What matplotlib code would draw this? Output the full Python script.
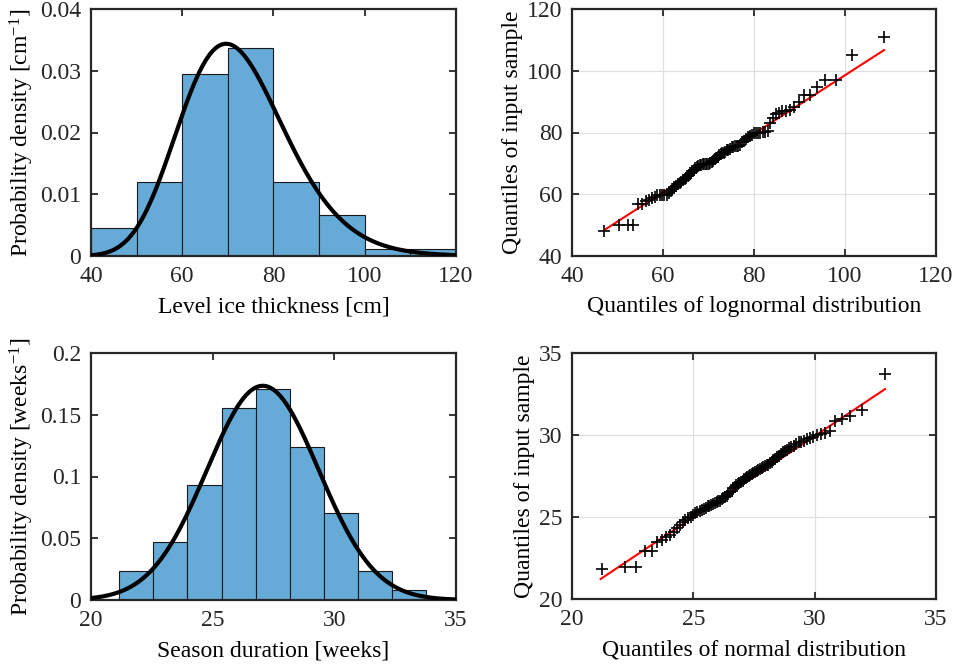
import numpy as np
import matplotlib
matplotlib.use("Agg")
import matplotlib.pyplot as plt
from statistics import NormalDist

plt.rcParams['font.family'] = ['Liberation Serif', 'DejaVu Serif']
plt.rcParams['mathtext.fontset'] = 'custom'
plt.rcParams['mathtext.rm'] = 'Liberation Serif'
plt.rcParams['mathtext.it'] = 'Liberation Serif'
FS = 17
plt.rcParams['font.size'] = FS

# ---------------- Data ----------------
# Level ice thickness histogram (density per cm), bins of 10 cm
ice_edges = [40, 50, 60, 70, 80, 90, 100, 110, 120]
ice_density = [0.0045, 0.0120, 0.0294, 0.0337, 0.0120, 0.0066, 0.0011, 0.0012]
# fitted lognormal parameters
ice_mu = 4.270
ice_sigma = 0.1645

# Season duration histogram (density per week)
season_edges = [21.15, 22.55, 23.95, 25.37, 26.77, 28.16, 29.56, 30.96, 32.36, 33.76]
season_density = [0.0237, 0.0470, 0.0934, 0.1552, 0.1706, 0.1241, 0.0702, 0.0237, 0.0081]
# fitted normal parameters
season_mu = 27.06
season_sigma = 2.30

# Sorted samples shown in the Q-Q plots
ice_sample = [48.1, 49.9, 49.9, 49.9, 57.0, 57.0, 57.8, 58.2, 58.8, 59.2,
              59.8, 59.8, 59.8, 59.8, 59.8, 60.5, 61.2, 61.8, 62.3, 62.8,
              63.3, 63.6, 64.0, 64.5, 64.8, 65.3, 65.9, 66.3, 66.8, 67.4,
              67.9, 68.4, 68.8, 69.1, 69.4, 69.6, 69.7, 69.8, 69.9, 69.9,
              69.95, 70.2, 70.5, 70.9, 71.3, 71.7, 72.1, 72.6, 73.0, 73.3,
              73.5, 73.8, 74.2, 74.4, 74.7, 75.2, 75.4, 75.5, 75.6, 75.7,
              76.0, 76.8, 77.2, 77.8, 78.4, 78.8, 79.3, 79.7, 79.8, 79.8,
              79.9, 80.1, 80.2, 80.4, 83.0, 84.6, 86.0, 86.2, 87.0, 87.1,
              87.2, 88.2, 90.0, 92.0, 92.0, 94.8, 97.0, 97.0, 105.0, 110.8]
ice_ref_x = [47.3, 108.6]
ice_ref_y = [48.6, 106.7]

season_sample = [21.8, 21.95, 21.95, 22.95, 22.95, 23.45, 23.6, 23.8, 23.9, 24.1,
                 24.35, 24.5, 24.7, 24.8, 24.95, 25.0, 25.1, 25.25, 25.3, 25.35,
                 25.4, 25.5, 25.55, 25.65, 25.7, 25.75, 25.8, 25.85, 25.9, 25.95,
                 26.0, 26.1, 26.15, 26.2, 26.3, 26.4, 26.5, 26.6, 26.75, 26.85,
                 26.95, 27.0, 27.1, 27.15, 27.2, 27.3, 27.4, 27.45, 27.5, 27.55,
                 27.6, 27.7, 27.75, 27.8, 27.85, 27.95, 28.0, 28.05, 28.1, 28.15,
                 28.2, 28.3, 28.35, 28.45, 28.55, 28.65, 28.75, 28.85, 28.95, 29.0,
                 29.1, 29.2, 29.25, 29.3, 29.45, 29.55, 29.6, 29.65, 29.75, 29.8,
                 29.9, 30.0, 30.05, 30.15, 30.25, 30.85, 30.95, 31.15, 31.55, 33.7]
season_ref_x = [21.18, 32.90]
season_ref_y = [21.22, 32.80]

BAR_COLOR = '#66AAD7'


def theoretical_z(n):
    nd = NormalDist()
    return np.array([nd.inv_cdf((i - 0.5) / n) for i in range(1, n + 1)])


def style_axes(ax):
    for s in ax.spines.values():
        s.set_linewidth(1.6)
        s.set_color('#262626')
    ax.tick_params(direction='in', length=5, width=1.3, top=True, right=True,
                   colors='#262626', labelcolor='#262626', labelsize=FS)
    ax.tick_params(axis='x', pad=7)
    ax.tick_params(axis='y', pad=7)


fig = plt.figure(figsize=(9.54, 6.67), dpi=100)
W, H = 954, 667


def add_ax(x0, y0, x1, y1):
    return fig.add_axes([x0 / W, 1 - y1 / H, (x1 - x0) / W, (y1 - y0) / H])


ax1 = add_ax(91, 9, 456, 256)
ax2 = add_ax(572, 9, 936, 256)
ax3 = add_ax(91, 353, 456, 600)
ax4 = add_ax(572, 353, 936, 599)

XLP = 7
YLP = 3

# --- Panel 1: ice histogram + lognormal pdf
e = np.array(ice_edges)
ax1.bar(e[:-1], ice_density, width=np.diff(e), align='edge', color=BAR_COLOR,
        edgecolor='#1a1a1a', linewidth=0.8, zorder=2)
xx = np.linspace(40, 120, 400)
pdf = np.exp(-(np.log(xx) - ice_mu) ** 2 / (2 * ice_sigma ** 2)) / (xx * ice_sigma * np.sqrt(2 * np.pi))
ax1.plot(xx, pdf, color='black', lw=3, zorder=3)
ax1.set_xlim(40, 120)
ax1.set_ylim(0, 0.04)
ax1.set_xticks([40, 60, 80, 100, 120])
ax1.set_yticks([0, 0.01, 0.02, 0.03, 0.04])
ax1.set_yticklabels(['0', '0.01', '0.02', '0.03', '0.04'])
ax1.set_xlabel('Level ice thickness [cm]', fontsize=FS, labelpad=XLP)
ax1.set_ylabel(r'Probability density [cm$^{-1}$]', fontsize=FS, labelpad=YLP)
style_axes(ax1)

# --- Panel 2: QQ lognormal
n = len(ice_sample)
qx = np.exp(ice_mu + ice_sigma * theoretical_z(n))
ax2.grid(True, color='#e0e0e0', lw=0.9, zorder=0)
ax2.plot(ice_ref_x, ice_ref_y, color='red', lw=1.5, zorder=2)
ax2.plot(qx, ice_sample, '+', color='black', ms=8, mew=1.2, zorder=3)
ax2.set_xlim(40, 120)
ax2.set_ylim(40, 120)
ax2.set_xticks([40, 60, 80, 100, 120])
ax2.set_yticks([40, 60, 80, 100, 120])
ax2.set_xlabel('Quantiles of lognormal distribution', fontsize=FS, labelpad=XLP)
ax2.set_ylabel('Quantiles of input sample', fontsize=FS, labelpad=YLP)
ax2.set_axisbelow(True)
style_axes(ax2)

# --- Panel 3: season histogram + normal pdf
e = np.array(season_edges)
ax3.bar(e[:-1], season_density, width=np.diff(e), align='edge', color=BAR_COLOR,
        edgecolor='#1a1a1a', linewidth=0.8, zorder=2)
xx = np.linspace(20, 35, 400)
pdf = np.exp(-(xx - season_mu) ** 2 / (2 * season_sigma ** 2)) / (season_sigma * np.sqrt(2 * np.pi))
ax3.plot(xx, pdf, color='black', lw=3, zorder=3)
ax3.set_xlim(20, 35)
ax3.set_ylim(0, 0.2)
ax3.set_xticks([20, 25, 30, 35])
ax3.set_yticks([0, 0.05, 0.1, 0.15, 0.2])
ax3.set_yticklabels(['0', '0.05', '0.1', '0.15', '0.2'])
ax3.set_xlabel('Season duration [weeks]', fontsize=FS, labelpad=XLP)
ax3.set_ylabel(r'Probability density [weeks$^{-1}$]', fontsize=FS, labelpad=YLP)
style_axes(ax3)

# --- Panel 4: QQ normal
n = len(season_sample)
qx = season_mu + season_sigma * theoretical_z(n)
ax4.grid(True, color='#e0e0e0', lw=0.9, zorder=0)
ax4.plot(season_ref_x, season_ref_y, color='red', lw=1.5, zorder=2)
ax4.plot(qx, season_sample, '+', color='black', ms=8, mew=1.2, zorder=3)
ax4.set_xlim(20, 35)
ax4.set_ylim(20, 35)
ax4.set_xticks([20, 25, 30, 35])
ax4.set_yticks([20, 25, 30, 35])
ax4.set_xlabel('Quantiles of normal distribution', fontsize=FS, labelpad=XLP)
ax4.set_ylabel('Quantiles of input sample', fontsize=FS, labelpad=YLP)
ax4.set_axisbelow(True)
style_axes(ax4)

fig.savefig('out.png', dpi=100)
